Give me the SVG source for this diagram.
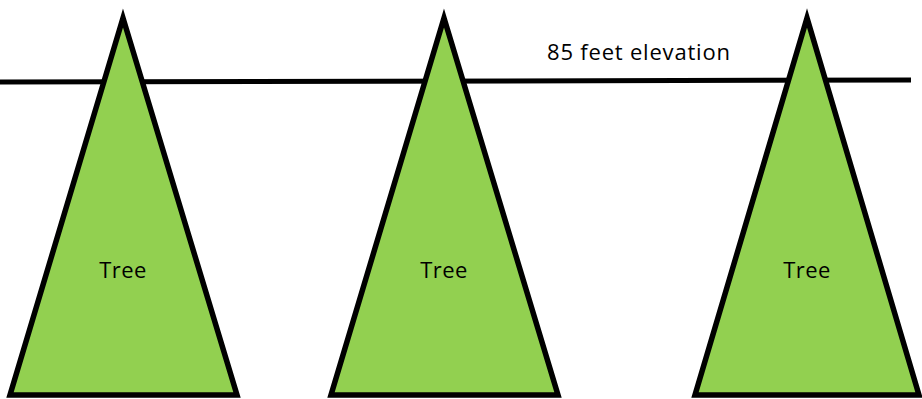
<svg xmlns="http://www.w3.org/2000/svg" width="922" height="399" viewBox="0 0 922 399">
<style>
.tree{fill:#92D050;stroke:#000;stroke-width:5.5;stroke-linejoin:miter;stroke-miterlimit:10}
.lbl{font-family:"Open Sans","Liberation Sans",sans-serif;font-size:22px;letter-spacing:0.4px;fill:#000}
</style>
<rect width="922" height="399" fill="#fff"/>
<g id="connectors">
<line x1="0" y1="82" x2="911" y2="80" stroke="#000" stroke-width="5"/>
</g>
<g id="tree1">
<polygon class="tree" points="123,18 10,395 237,395"/>
<text class="lbl" x="123" y="278" text-anchor="middle">Tree</text>
</g>
<g id="tree2">
<polygon class="tree" points="444,18 331,395 558,395"/>
<text class="lbl" x="444" y="278" text-anchor="middle">Tree</text>
</g>
<g id="tree3">
<polygon class="tree" points="807,18 695,395 919,395"/>
<text class="lbl" x="807" y="278" text-anchor="middle">Tree</text>
</g>
<text id="elev" class="lbl" x="547" y="60" style="letter-spacing:0.8px">85 feet elevation</text>
</svg>
